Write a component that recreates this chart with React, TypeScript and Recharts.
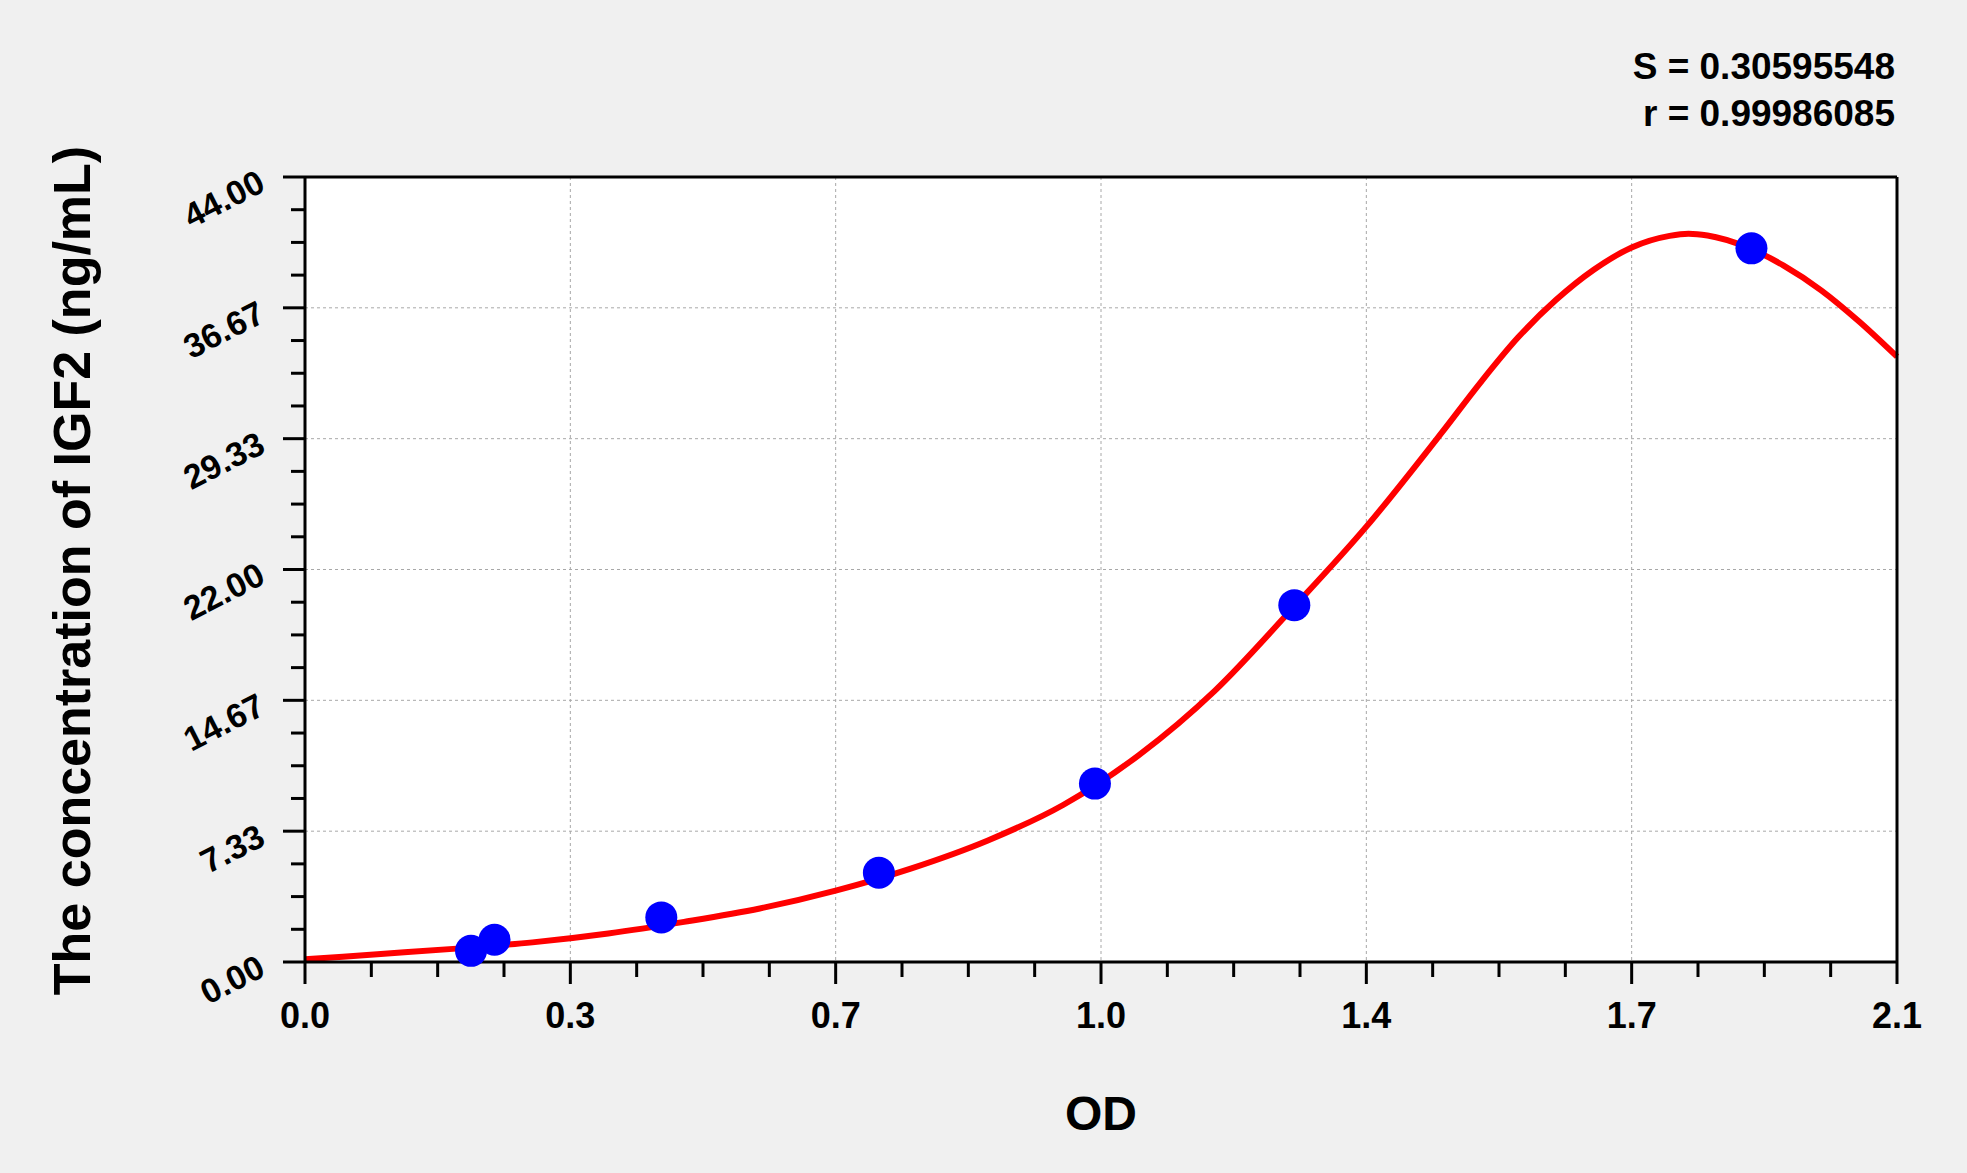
import React from 'react';
import { ComposedChart, Line, Scatter, XAxis, YAxis, CartesianGrid, Label } from 'recharts';

const FONT = '"Liberation Sans", Arial, sans-serif';

// Fitted curve (OD -> concentration)
const curveOd = [0, 0.1, 0.2, 0.3, 0.4, 0.5, 0.6, 0.7, 0.8, 0.9, 1.0, 1.1, 1.2, 1.3, 1.4, 1.5, 1.55, 1.6, 1.65, 1.7, 1.75, 1.8, 1.825, 1.85, 1.9, 1.95, 2.0, 2.05, 2.1];
const curveConc = [0.15, 0.45, 0.75, 1.1, 1.6, 2.25, 3.0, 4.0, 5.25, 6.8, 8.8, 11.6, 15.2, 19.7, 24.4, 29.7, 32.45, 35.0, 37.1, 38.8, 40.05, 40.7, 40.82, 40.72, 40.1, 39.05, 37.65, 35.9, 33.93];

// Standards
const standardOd = [0.219, 0.25, 0.47, 0.757, 1.042, 1.305, 1.908];
const standardConc = [0.625, 1.25, 2.5, 5, 10, 20, 40];

// Axes
const xMajorTicks = [0, 0.35, 0.7, 1.05, 1.4, 1.75, 2.1];
const xTickLabels = ['0.0', '0.3', '0.7', '1.0', '1.4', '1.7', '2.1'];
const yMajorTicks = [0, 7.333, 14.667, 22, 29.333, 36.667, 44];
const yTickLabels = ['0.00', '7.33', '14.67', '22.00', '29.33', '36.67', '44.00'];
const fitStats = ['S = 0.30595548', 'r = 0.99986085'];

const curveData = curveOd.map((x, i) => ({ x, y: curveConc[i] }));
const standardData = standardOd.map((x, i) => ({ x, y: standardConc[i] }));

// 3 minor ticks between each pair of major ticks
const withMinor = (major: number[]) => {
  const out: number[] = [];
  for (let i = 0; i < major.length - 1; i++) {
    for (let k = 0; k < 4; k++) out.push(major[i] + ((major[i + 1] - major[i]) * k) / 4);
  }
  out.push(major[major.length - 1]);
  return out;
};

const XTick = (props: any) => {
  const { x, y, index } = props;
  const major = index % 4 === 0;
  return (
    <g>
      <line x1={x} y1={y} x2={x} y2={y + (major ? 22 : 15)} stroke="#000" strokeWidth={3} />
      {major && (
        <text x={x} y={y + 66} textAnchor="middle" fontSize={36} fontWeight="bold" fontFamily={FONT} fill="#000">
          {xTickLabels[index / 4]}
        </text>
      )}
    </g>
  );
};

const YTick = (props: any) => {
  const { x, y, index } = props;
  const major = index % 4 === 0;
  const tx = x - 38;
  const ty = y + 13;
  return (
    <g>
      <line x1={x} y1={y} x2={x - (major ? 22 : 14)} y2={y} stroke="#000" strokeWidth={3} />
      {major && (
        <text
          x={tx}
          y={ty}
          transform={`rotate(-27, ${tx}, ${ty})`}
          textAnchor="end"
          fontSize={34}
          fontWeight="bold"
          fontFamily={FONT}
          fill="#000"
        >
          {yTickLabels[index / 4]}
        </text>
      )}
    </g>
  );
};

export default function App() {
  return (
    <div style={{ position: 'absolute', left: 0, top: 0, width: 1967, height: 1173, background: '#f0f0f0' }}>
      <ComposedChart width={1967} height={1173} margin={{ top: 0, right: 0, bottom: 0, left: 0 }}>
        <CartesianGrid
          fill="#ffffff"
          stroke="#a8a8a8"
          strokeDasharray="3 3"
          verticalValues={xMajorTicks}
          horizontalValues={yMajorTicks}
        />
        <XAxis
          xAxisId="top"
          orientation="top"
          type="number"
          domain={[0, 2.1]}
          height={177}
          tick={false}
          tickLine={false}
          axisLine={{ stroke: '#000', strokeWidth: 3 }}
        >
          <Label
            content={(p: any) => {
              const vb = p.viewBox;
              const rx = vb.x + vb.width - 2;
              return (
                <g fontFamily={FONT} fontWeight="bold" fontSize={37} fill="#000">
                  <text x={rx} y={79} textAnchor="end">{fitStats[0]}</text>
                  <text x={rx} y={126} textAnchor="end">{fitStats[1]}</text>
                </g>
              );
            }}
          />
        </XAxis>
        <YAxis
          yAxisId="right"
          orientation="right"
          type="number"
          domain={[0, 44]}
          width={70}
          tick={false}
          tickLine={false}
          axisLine={{ stroke: '#000', strokeWidth: 3 }}
        />
        <XAxis
          dataKey="x"
          type="number"
          domain={[0, 2.1]}
          ticks={withMinor(xMajorTicks)}
          interval={0}
          height={211}
          tickSize={0}
          tickMargin={0}
          tickLine={false}
          tick={<XTick />}
          axisLine={{ stroke: '#000', strokeWidth: 3 }}
        >
          <Label
            content={(p: any) => {
              const vb = p.viewBox;
              return (
                <text x={vb.x + vb.width / 2} y={vb.y + 168} textAnchor="middle" fontSize={48} fontWeight="bold" fontFamily={FONT} fill="#000">
                  OD
                </text>
              );
            }}
          />
        </XAxis>
        <YAxis
          dataKey="y"
          type="number"
          domain={[0, 44]}
          ticks={withMinor(yMajorTicks)}
          interval={0}
          width={305}
          tickSize={0}
          tickMargin={0}
          tickLine={false}
          tick={<YTick />}
          axisLine={{ stroke: '#000', strokeWidth: 3 }}
        >
          <Label
            content={(p: any) => {
              const vb = p.viewBox;
              const cx = vb.x + 72;
              const cy = vb.y + vb.height / 2 + 1;
              return (
                <text
                  x={cx}
                  y={cy}
                  transform={`rotate(-90, ${cx}, ${cy})`}
                  textAnchor="middle"
                  dominantBaseline="central"
                  fontSize={52}
                  fontWeight="bold"
                  fontFamily={FONT}
                  fill="#000"
                >
                  The concentration of IGF2 (ng/mL)
                </text>
              );
            }}
          />
        </YAxis>
        <Scatter
          data={standardData}
          dataKey="y"
          fill="#0000ff"
          isAnimationActive={false}
          shape={(p: any) => <circle cx={p.cx} cy={p.cy} r={16} fill="#0000ff" />}
        />
        <Line
          data={curveData}
          dataKey="y"
          type="monotone"
          stroke="#ff0000"
          strokeWidth={6}
          dot={false}
          activeDot={false}
          isAnimationActive={false}
        />
      </ComposedChart>
    </div>
  );
}
